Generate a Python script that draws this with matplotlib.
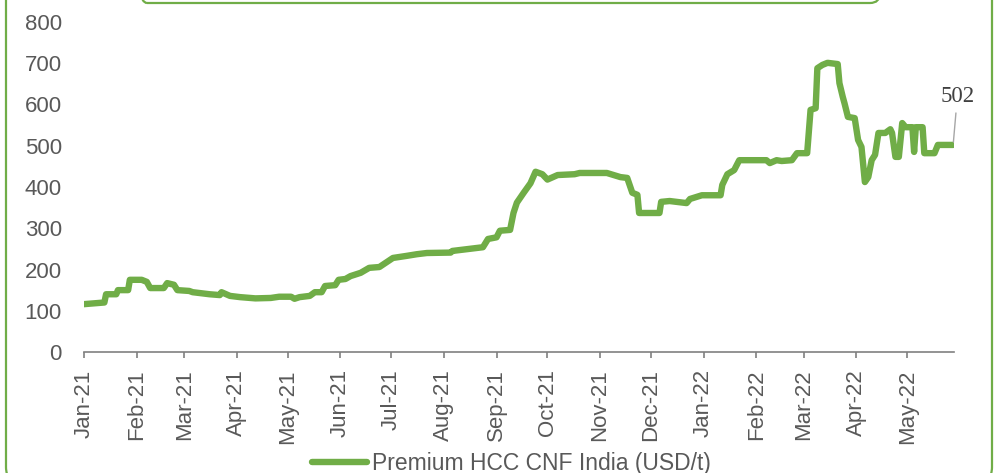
import pandas as pd
import matplotlib
matplotlib.use("Agg")
import matplotlib.pyplot as plt
import matplotlib.dates as mdates
from matplotlib.patches import FancyBboxPatch

# Premium HCC CNF India (USD/t)
dates = [
    "2021-01-01", "2021-01-13", "2021-01-14", "2021-01-20", "2021-01-21", "2021-01-27",
    "2021-01-28", "2021-02-04", "2021-02-07", "2021-02-09", "2021-02-17", "2021-02-19",
    "2021-02-23", "2021-02-25", "2021-03-04", "2021-03-06", "2021-03-10", "2021-03-16",
    "2021-03-22", "2021-03-23", "2021-03-28", "2021-04-03", "2021-04-12", "2021-04-21",
    "2021-04-26", "2021-05-03", "2021-05-05", "2021-05-08", "2021-05-14", "2021-05-17",
    "2021-05-21", "2021-05-23", "2021-05-29", "2021-05-31", "2021-06-04", "2021-06-07",
    "2021-06-13", "2021-06-18", "2021-06-24", "2021-07-02", "2021-07-10", "2021-07-16",
    "2021-07-22", "2021-08-05", "2021-08-06", "2021-08-16", "2021-08-24", "2021-08-27",
    "2021-09-01", "2021-09-03", "2021-09-09", "2021-09-11", "2021-09-13", "2021-09-17",
    "2021-09-21", "2021-09-24", "2021-09-28", "2021-10-01", "2021-10-07", "2021-10-17",
    "2021-10-20", "2021-11-05", "2021-11-09", "2021-11-13", "2021-11-17", "2021-11-20",
    "2021-11-23", "2021-11-24", "2021-12-06", "2021-12-07", "2021-12-12", "2021-12-22",
    "2021-12-24", "2021-12-31", "2022-01-11", "2022-01-12", "2022-01-15", "2022-01-19",
    "2022-01-22", "2022-02-07", "2022-02-09", "2022-02-13", "2022-02-16", "2022-02-22",
    "2022-02-25", "2022-03-03", "2022-03-05", "2022-03-08", "2022-03-09", "2022-03-12",
    "2022-03-15", "2022-03-21", "2022-03-22", "2022-03-24", "2022-03-25", "2022-03-27",
    "2022-03-31", "2022-04-02", "2022-04-04", "2022-04-06", "2022-04-08", "2022-04-10",
    "2022-04-12", "2022-04-14", "2022-04-18", "2022-04-21", "2022-04-22", "2022-04-24",
    "2022-04-26", "2022-04-28", "2022-04-30", "2022-05-04", "2022-05-05", "2022-05-06",
    "2022-05-10", "2022-05-11", "2022-05-17", "2022-05-19", "2022-05-28",
]
values = [
    116, 120, 140, 140, 150, 150,
    175, 175, 170, 155, 155, 167,
    163, 150, 148, 145, 143, 140,
    138, 145, 136, 133, 130, 131,
    134, 134, 129, 133, 136, 145,
    145, 160, 162, 175, 177, 184,
    192, 204, 206, 228, 233, 237,
    240, 241, 245, 250, 254, 274,
    278, 294, 296, 337, 362, 386,
    409, 437, 431, 418, 429, 431,
    434, 434, 429, 424, 422, 386,
    381, 337, 337, 364, 366, 361,
    371, 380, 380, 405, 431, 441,
    465, 465, 458, 465, 463, 465,
    482, 482, 587, 591, 688, 696,
    701, 698, 652, 618, 603, 570,
    567, 514, 497, 412, 424, 465,
    478, 531, 531, 540, 531, 473,
    473, 555, 545, 545, 485, 545,
    545, 482, 482, 502, 502,
]
series_label = "Premium HCC CNF India (USD/t)"
last_label = "502"

green = "#70AD47"
grey = "#595959"

x = pd.to_datetime(dates)

fig = plt.figure(figsize=(9.94, 4.73), dpi=100)

# background frame (pixel coordinates, origin bottom-left)
bg = fig.add_axes([0, 0, 1, 1], zorder=0)
bg.set_xlim(0, 994)
bg.set_ylim(0, 473)
bg.axis("off")
bg.add_patch(FancyBboxPatch((6, -10), 986, 540, boxstyle="round,pad=0,rounding_size=16",
                            fill=False, ec=green, lw=1.6))
bg.add_patch(FancyBboxPatch((137, 470), 743, 60, boxstyle="round,pad=0,rounding_size=10",
                            fill=False, ec=green, lw=1.6))

ax = fig.add_axes([84 / 994, 121 / 473, 870 / 994, 330 / 473], zorder=1)
ax.patch.set_alpha(0)
ax.plot(x, values, color=green, lw=4.6, solid_joinstyle="round", solid_capstyle="round",
        label=series_label)

ax.set_ylim(0, 800)
ax.set_yticks(range(0, 801, 100))
ax.set_xlim(pd.Timestamp("2021-01-01"), pd.Timestamp("2022-05-28 12:00"))
ax.xaxis.set_major_locator(mdates.MonthLocator())
ax.xaxis.set_major_formatter(mdates.DateFormatter("%b-%y"))

for s in ["top", "right", "left"]:
    ax.spines[s].set_visible(False)
ax.spines["bottom"].set_color("#808080")
ax.spines["bottom"].set_linewidth(1.2)

ax.tick_params(axis="x", length=4.5, width=1.2, color="#808080", pad=8,
               labelsize=16, labelcolor=grey, labelrotation=90)
ax.tick_params(axis="y", length=0, pad=16, labelsize=16, labelcolor=grey)
for t in ax.get_xticklabels() + ax.get_yticklabels():
    t.set_fontfamily("Liberation Sans")

ax.annotate(last_label, xy=(x[-1], values[-1]), xytext=(3, 27), textcoords="offset points",
            ha="center", va="bottom", fontsize=16.5, family="Liberation Serif", color="#404040",
            arrowprops=dict(arrowstyle="-", color="#A6A6A6", lw=1, shrinkA=2, shrinkB=2))

fig.legend(loc="center", bbox_to_anchor=(0.5146, 0.021), frameon=False,
           prop={"family": "Liberation Sans", "size": 16.5}, labelcolor=grey,
           handlelength=2.4, handletextpad=0.2, borderaxespad=0, borderpad=0)

fig.savefig("out.png", dpi=100)
